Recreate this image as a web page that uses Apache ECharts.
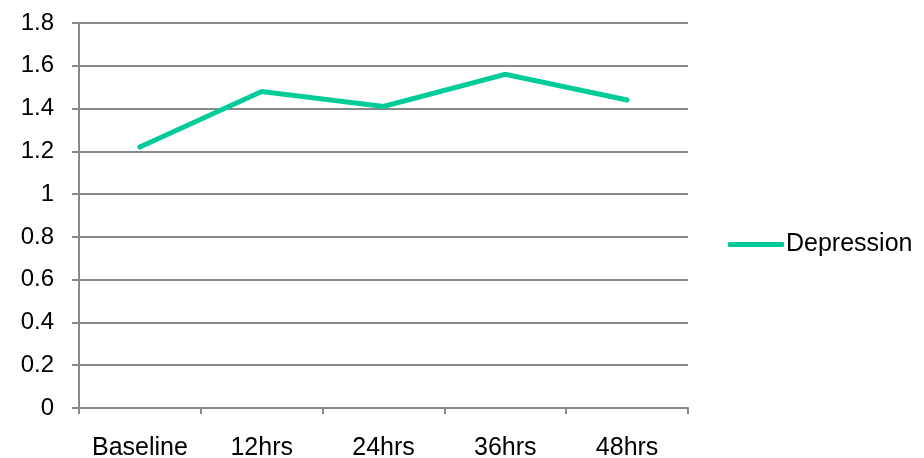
<!DOCTYPE html>
<html>
<head>
<meta charset="utf-8">
<script src="https://cdn.jsdelivr.net/npm/echarts@6/dist/echarts.min.js"></script>
<style>
    html, body { margin: 0; padding: 0; background: #fff; }
    #chart { width: 924px; height: 458px; }
</style>
</head>
<body>
<div id="chart"></div>
<script>
let categories = ['Baseline', '12hrs', '24hrs', '36hrs', '48hrs'];
let depressionValues = [1.22, 1.48, 1.41, 1.56, 1.44];
let seriesName = 'Depression';

let myChart = echarts.init(document.getElementById('chart'));

let option = {
    animation: false,
    textStyle: { fontFamily: 'Liberation Sans, Arial, sans-serif' },
    grid: { left: 79, right: 236, top: 23, bottom: 50, containLabel: false, outerBoundsMode: 'none' },
    legend: {
        data: [seriesName],
        orient: 'vertical',
        left: 723,
        top: 227,
        icon: 'roundRect',
        itemWidth: 56,
        itemHeight: 5,
        textStyle: { fontSize: 25, color: '#000', padding: [0, 0, 0, -3] }
    },
    xAxis: {
        type: 'category',
        data: categories,
        boundaryGap: true,
        axisLine: { lineStyle: { color: '#888', width: 2 } },
        axisTick: { show: true, interval: 0, length: 6, inside: false, lineStyle: { color: '#888', width: 2 } },
        axisLabel: { interval: 0, fontSize: 25, color: '#000', margin: 28 },
        splitLine: { show: false }
    },
    yAxis: {
        type: 'value',
        min: 0,
        max: 1.8,
        interval: 0.2,
        axisLine: { show: true, lineStyle: { color: '#888', width: 2 } },
        axisTick: { show: true, length: 7, lineStyle: { color: '#888', width: 2 } },
        axisLabel: { fontSize: 24, color: '#000', margin: 25,
            formatter: function (v) { return String(Math.round(v * 10) / 10); } },
        splitLine: { show: true, lineStyle: { color: '#888', width: 2 } }
    },
    series: [{
        name: seriesName,
        type: 'line',
        data: depressionValues,
        symbol: 'none',
        lineStyle: { color: '#00CC99', width: 5, cap: 'round', join: 'miter' },
        itemStyle: { color: '#00CC99' }
    }]
};

myChart.setOption(option);
</script>
</body>
</html>
